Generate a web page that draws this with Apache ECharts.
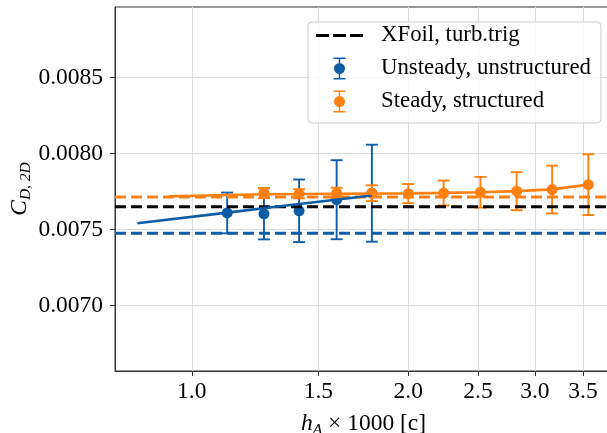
<!DOCTYPE html>
<html><head><meta charset="utf-8">
<script src="https://cdn.jsdelivr.net/npm/echarts@6/dist/echarts.min.js"></script>
<style>html,body{margin:0;padding:0;background:#fff}#c{width:607px;height:433px}</style>
</head><body><div id="c"></div>
<script>
// ---- data ----
const xTicks = [1.0, 1.5, 2.0, 2.5, 3.0, 3.5];
const yTicks = [0.0070, 0.0075, 0.0080, 0.0085];
const xLimits = [0.782, 3.84];
const yLimits = [0.00657, 0.008965];

const unsteadyX   = [1.12, 1.26, 1.41, 1.59, 1.78];
const unsteadyY   = [0.007610, 0.007604, 0.007624, 0.007697, 0.007740];
const unsteadyErr = [0.000134, 0.000168, 0.000206, 0.000260, 0.000319];

const steadyX   = [1.26, 1.41, 1.59, 1.78, 2.00, 2.24, 2.52, 2.83, 3.17, 3.56];
const steadyY   = [0.007740, 0.007736, 0.007740, 0.007740, 0.007737, 0.007741, 0.007746, 0.007753, 0.007764, 0.007796];
const steadyErr = [0.000033, 0.000030, 0.000036, 0.000052, 0.000063, 0.000082, 0.000101, 0.000125, 0.000157, 0.000200];

const unsteadyFitX = [0.84, 1.12, 1.41, 1.78];
const unsteadyFitY = [0.007542, 0.007612, 0.007669, 0.007725];
const steadyFitX = [0.93, 1.26, 1.59, 2.00, 2.24, 2.52, 2.83, 3.17, 3.56];
const steadyFitY = [0.0077187, 0.0077332, 0.0077365, 0.0077385, 0.0077418, 0.0077464, 0.0077536, 0.0077648, 0.0077964];

const xfoilRef = 0.007650;
const unsteadyRef = 0.007476;
const steadyRef = 0.007715;

const NAME_XFOIL = 'XFoil, turb.trig';
const NAME_UNSTEADY = 'Unsteady, unstructured';
const NAME_STEADY = 'Steady, structured';

// ---- styling ----
const FONT = '"Liberation Serif", "Times New Roman", serif';
const BLUE = '#0C5DA5';
const ORANGE = '#FF800E';
const FS = 23.5;
const FS_LEG = 22.8;

const ICON_DASH = 'path://M0 0M60 22M0 9.5h13v3h-13ZM17 9.5h13v3h-13ZM34 9.5h13v3h-13Z';
const ICON_ERR = 'path://M0 0M60 22M22.75 0h1.5v22h-1.5ZM17.5 0h12v1.5h-12ZM17.5 20.5h12v1.5h-12ZM18 11a5.5 5.5 0 1 1 11 0a5.5 5.5 0 1 1 -11 0Z';

function errData(xs, ys, es) {
  return xs.map((x, i) => [x, ys[i], ys[i] - es[i], ys[i] + es[i]]);
}
function pairs(xs, ys) { return xs.map((x, i) => [x, ys[i]]); }

function renderErr(params, api) {
  const x = api.value(0), y = api.value(1), lo = api.value(2), hi = api.value(3);
  const c = api.coord([x, y]);
  const pl = api.coord([x, lo]);
  const ph = api.coord([x, hi]);
  const color = api.visual('color');
  const w = 6, lw = 1.9;
  return {
    type: 'group',
    children: [
      {type: 'line', shape: {x1: pl[0], y1: pl[1], x2: ph[0], y2: ph[1]}, style: {stroke: color, lineWidth: lw}},
      {type: 'line', shape: {x1: pl[0] - w, y1: pl[1], x2: pl[0] + w, y2: pl[1]}, style: {stroke: color, lineWidth: lw}},
      {type: 'line', shape: {x1: ph[0] - w, y1: ph[1], x2: ph[0] + w, y2: ph[1]}, style: {stroke: color, lineWidth: lw}},
      {type: 'circle', shape: {cx: c[0], cy: c[1], r: 5.5}, style: {fill: color}}
    ]
  };
}

function refLine(name, value, color) {
  return {
    name: name, type: 'line', silent: true,
    data: [[xLimits[0], value], [xLimits[1], value]],
    showSymbol: false, symbol: 'none',
    itemStyle: {color: color},
    lineStyle: {color: color, type: [11, 5], width: 3}
  };
}

const chart = echarts.init(document.getElementById('c'), null, {renderer: 'canvas'});
chart.setOption({
  animation: false,
  backgroundColor: '#ffffff',
  textStyle: {fontFamily: FONT},
  grid: {left: 115, top: 7, right: -5, bottom: 62, show: true, borderColor: '#333', borderWidth: 1,
         containLabel: false, outerBoundsMode: 'none'},
  legend: {
    orient: 'vertical', left: 308, top: 22,
    padding: [2, 10, 10, 8],
    itemWidth: 60, itemHeight: 22, itemGap: 10,
    backgroundColor: 'rgba(255,255,255,0.8)', borderColor: '#cccccc', borderWidth: 1, borderRadius: 4,
    textStyle: {fontFamily: FONT, fontSize: FS_LEG, color: '#000'},
    itemStyle: {borderWidth: 0},
    selectedMode: false,
    data: [
      {name: NAME_XFOIL, icon: ICON_DASH, itemStyle: {color: '#000', borderWidth: 0}},
      {name: NAME_UNSTEADY, icon: ICON_ERR, itemStyle: {color: BLUE, borderWidth: 0}},
      {name: NAME_STEADY, icon: ICON_ERR, itemStyle: {color: ORANGE, borderWidth: 0}}
    ]
  },
  xAxis: {
    type: 'log', min: xLimits[0], max: xLimits[1],
    name: '{i|h}{s|A}{t| × 1000 [c]}',
    nameLocation: 'middle', nameGap: 39, nameMoveOverlap: false,
    nameTextStyle: {
      fontFamily: FONT, fontSize: FS, color: '#000',
      rich: {
        i: {fontFamily: FONT, fontSize: FS, fontStyle: 'italic', color: '#000', lineHeight: 28, verticalAlign: 'middle'},
        s: {fontFamily: FONT, fontSize: 15.5, fontStyle: 'italic', color: '#000', lineHeight: 28, verticalAlign: 'bottom'},
        t: {fontFamily: FONT, fontSize: FS, color: '#000', lineHeight: 28, verticalAlign: 'middle'}
      }
    },
    axisLine: {show: true, lineStyle: {color: '#333', width: 1}},
    axisTick: {show: true, length: 5, lineStyle: {color: '#333'}, customValues: xTicks},
    axisLabel: {
      customValues: xTicks, margin: 9,
      fontFamily: FONT, fontSize: FS, color: '#000',
      formatter: v => Number(v).toFixed(1)
    },
    splitLine: {show: true, lineStyle: {color: '#dcdcdc', width: 1}},
    minorTick: {show: false}, minorSplitLine: {show: false}
  },
  yAxis: {
    type: 'value', min: yLimits[0], max: yLimits[1],
    name: '{i|C}{s|D, 2D}',
    nameLocation: 'middle', nameGap: 81, nameRotate: 90, nameMoveOverlap: false,
    nameTextStyle: {
      fontFamily: FONT, fontSize: FS, color: '#000',
      rich: {
        i: {fontFamily: FONT, fontSize: FS, fontStyle: 'italic', color: '#000', lineHeight: 28, verticalAlign: 'middle'},
        s: {fontFamily: FONT, fontSize: 15.5, fontStyle: 'italic', color: '#000', lineHeight: 28, verticalAlign: 'bottom'}
      }
    },
    axisLine: {show: true, lineStyle: {color: '#333', width: 1}},
    axisTick: {show: true, length: 5, lineStyle: {color: '#333'}, customValues: yTicks},
    axisLabel: {
      customValues: yTicks, margin: 12,
      fontFamily: FONT, fontSize: FS, color: '#000',
      formatter: v => Number(v).toFixed(4)
    },
    splitLine: {show: true, lineStyle: {color: '#dcdcdc', width: 1}}
  },
  series: [
    refLine(NAME_XFOIL, xfoilRef, '#000000'),
    refLine('unsteadyRef', unsteadyRef, BLUE),
    refLine('steadyRef', steadyRef, ORANGE),
    {
      name: 'unsteadyFit', type: 'line', data: pairs(unsteadyFitX, unsteadyFitY),
      showSymbol: false, symbol: 'none', silent: true,
      lineStyle: {color: BLUE, width: 2.6}, itemStyle: {color: BLUE}
    },
    {
      name: NAME_UNSTEADY, type: 'custom', renderItem: renderErr,
      data: errData(unsteadyX, unsteadyY, unsteadyErr),
      encode: {x: 0, y: 1}, itemStyle: {color: BLUE, borderWidth: 0}, silent: true
    },
    {
      name: 'steadyFit', type: 'line', data: pairs(steadyFitX, steadyFitY),
      showSymbol: false, symbol: 'none', silent: true,
      lineStyle: {color: ORANGE, width: 2.6}, itemStyle: {color: ORANGE}
    },
    {
      name: NAME_STEADY, type: 'custom', renderItem: renderErr,
      data: errData(steadyX, steadyY, steadyErr),
      encode: {x: 0, y: 1}, itemStyle: {color: ORANGE, borderWidth: 0}, silent: true
    }
  ]
});
</script></body></html>
